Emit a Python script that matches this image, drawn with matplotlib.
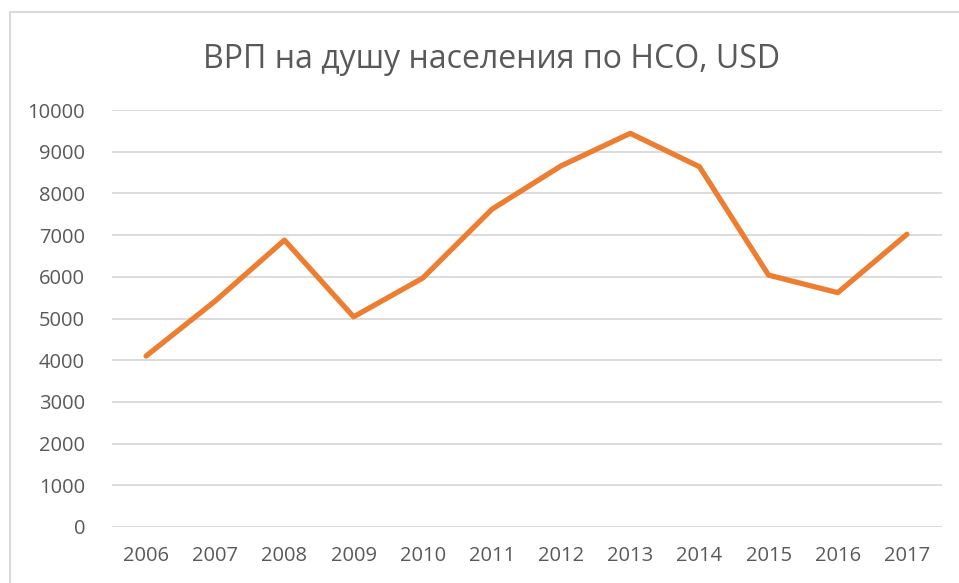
import numpy as np
import matplotlib.pyplot as plt
from matplotlib.lines import Line2D

# ВРП на душу населения по НСО, USD
years = ['2006', '2007', '2008', '2009', '2010', '2011',
         '2012', '2013', '2014', '2015', '2016', '2017']
grp = [4100, 5420, 6880, 5040, 5970, 7620, 8660, 9440, 8640, 6040, 5620, 7020]
yticks = [0, 1000, 2000, 3000, 4000, 5000, 6000, 7000, 8000, 9000, 10000]

TEXT = '#595959'
GRID = '#D9D9D9'
ORANGE = '#ED7D31'

plt.rcParams['font.family'] = ['Open Sans', 'DejaVu Sans']

W, H = 959, 583
fig = plt.figure(figsize=(W / 100, H / 100), dpi=100)
ax = fig.add_axes([111.5 / W, 1 - 527 / H, (941.5 - 111.5) / W, (527 - 110) / H])

x = np.arange(len(years))
ax.plot(x, grp, color=ORANGE, lw=3.8, solid_joinstyle='round', solid_capstyle='round', zorder=3)

ax.set_xlim(-0.5, len(years) - 0.5)
ax.set_ylim(0, 10000)
ax.set_yticks(yticks)
ax.set_yticklabels([str(v) for v in yticks])
ax.set_xticks(x)
ax.set_xticklabels(years)
ax.grid(axis='y', color=GRID, lw=1.3)
ax.set_axisbelow(True)
for s in ax.spines.values():
    s.set_visible(False)
ax.tick_params(axis='both', length=0, labelsize=14.5, colors=TEXT)
ax.tick_params(axis='y', pad=19)
ax.tick_params(axis='x', pad=14)

# chart title
fig.text(492 / W, 1 - 60 / H, 'ВРП на душу населения по НСО, USD',
         ha='center', va='center', fontsize=23, color=TEXT)

# chart area border (left and top edges visible)
fig.add_artist(Line2D([10 / W, 10 / W, 1.0], [0.0, 1 - 12 / H, 1 - 12 / H],
                      transform=fig.transFigure, color=GRID, lw=1.5))

fig.savefig('out.png', dpi=100)
